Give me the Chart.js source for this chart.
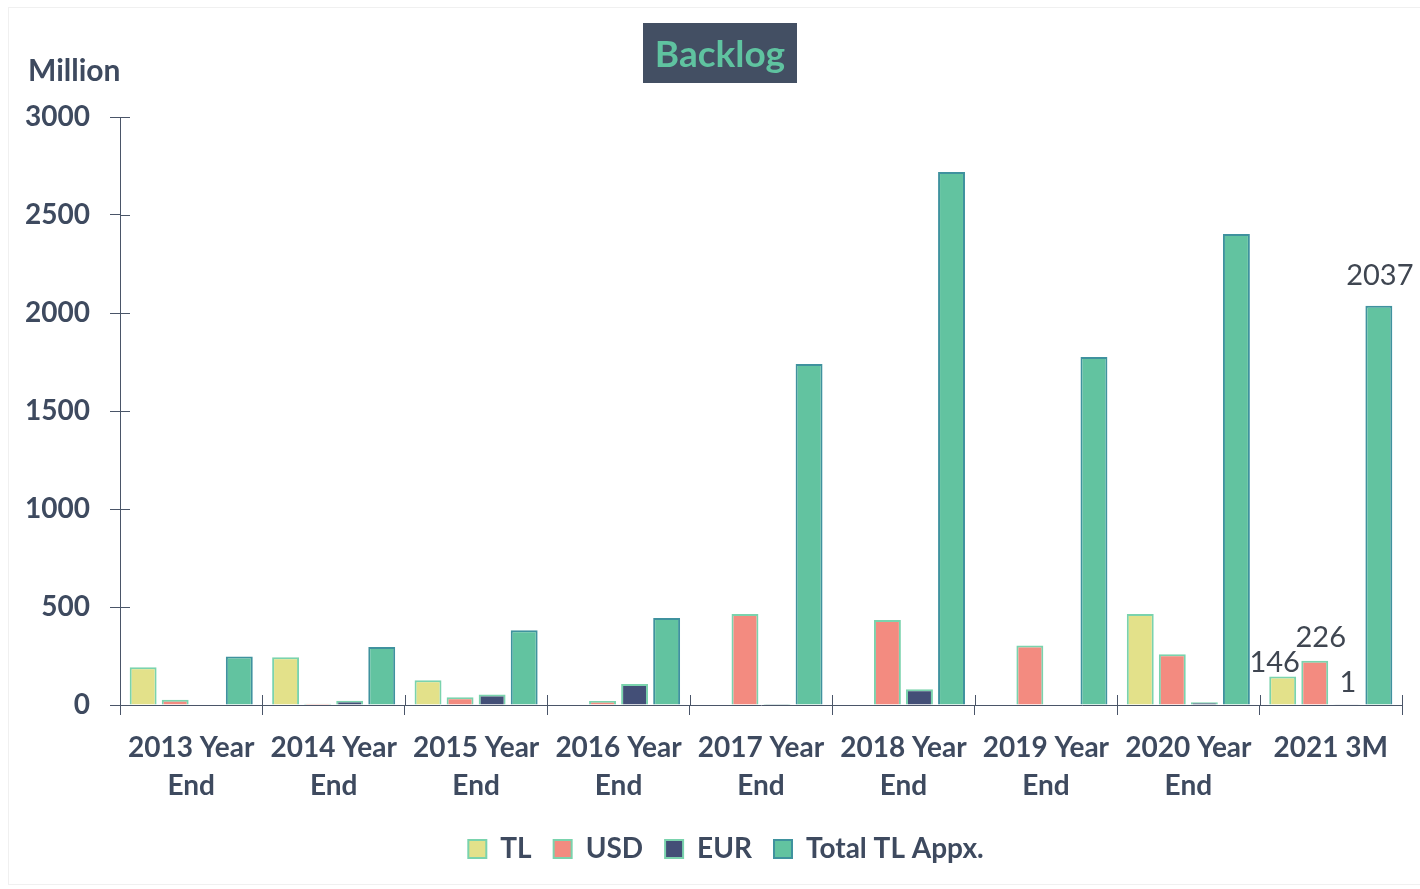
<!DOCTYPE html>
<html>
<head>
<meta charset="utf-8">
<title>Backlog</title>
<script src="https://cdn.jsdelivr.net/npm/chart.js@4.4.0/dist/chart.umd.min.js"></script>
<style>
  body { margin: 0; background: #fff; }
  #frame { position: absolute; left: 8px; top: 7px; width: 1420px; height: 878px; border: 1px solid #f0f0f0; box-sizing: border-box; }
  canvas { position: absolute; left: 0; top: 0; }
</style>
</head>
<body>
<div id="frame"></div>
<canvas id="backlog" width="1420" height="889"></canvas>
<script>
// values (million)
const periods = [
  ["2013 Year", "End"], ["2014 Year", "End"], ["2015 Year", "End"],
  ["2016 Year", "End"], ["2017 Year", "End"], ["2018 Year", "End"],
  ["2019 Year", "End"], ["2020 Year", "End"], "2021 3M"
];
const tlValues    = [192, 243, 126, 0, 0, 0, 0, 464, 146];
const usdValues   = [27, 7, 39, 20, 464, 434, 303, 259, 226];
const eurValues   = [0, 22, 53, 107, 5, 80, 0, 14, 1];
const totalValues = [248, 296, 381, 444, 1740, 2719, 1776, 2403, 2037];
const yTicks = [0, 500, 1000, 1500, 2000, 2500, 3000];

const ink = "#3e4a5f";
const font = "Lato";
// nudges for the value labels on the last group, like Excel spreads them out
const labelNudge = [[-8, -14], [6, -23], [1, -22], [1, -30]];

// title box, unit label, value labels on last group, inner halves of tick marks
const decorations = {
  id: "decorations",
  afterLayout(chart) {
    // legend in the reference sits a bit right of the canvas centre
    chart.legend.left += 25;
    chart.legend.right += 25;
  },
  afterDraw(chart) {
    const ctx = chart.ctx;
    const x = chart.scales.x, y = chart.scales.y;
    ctx.save();

    ctx.fillStyle = "#434f63";
    ctx.fillRect(643, 23, 154, 60);
    ctx.fillStyle = "#5fc3a0";
    ctx.font = "bold 37px " + font;
    ctx.textAlign = "center";
    ctx.textBaseline = "middle";
    ctx.fillText("Backlog", 720, 55);

    ctx.fillStyle = ink;
    ctx.font = "bold 30px " + font;
    ctx.textAlign = "left";
    ctx.fillText("Million", 28, 71);

    ctx.strokeStyle = "#4a5568";
    ctx.lineWidth = 1;
    ctx.beginPath();
    yTicks.forEach(v => {
      const py = Math.round(y.getPixelForValue(v)) + 0.5;
      ctx.moveTo(x.left, py); ctx.lineTo(x.left + 10, py);
    });
    for (let i = 0; i <= periods.length; i++) {
      const px = Math.round(x.left + (x.right - x.left) * i / periods.length) + 0.5;
      ctx.moveTo(px, y.bottom); ctx.lineTo(px, y.bottom - 10);
    }
    ctx.stroke();

    const last = periods.length - 1;
    ctx.fillStyle = "#3f4651";
    ctx.font = "29px " + font;
    ctx.textAlign = "center";
    ctx.textBaseline = "middle";
    chart.data.datasets.forEach((ds, di) => {
      const bar = chart.getDatasetMeta(di).data[last];
      const [dx, dy] = labelNudge[di];
      ctx.fillText(String(ds.data[last]), bar.x + dx, bar.y + dy);
    });
    ctx.restore();
  }
};

new Chart(document.getElementById("backlog"), {
  type: "bar",
  data: {
    labels: periods,
    datasets: [
      { label: "TL", data: tlValues, backgroundColor: "#e3e18a", borderColor: "#7ad3ad" },
      { label: "USD", data: usdValues, backgroundColor: "#f38b80", borderColor: "#7ad3ad" },
      { label: "EUR", data: eurValues, backgroundColor: "#434f77", borderColor: "#7ad3ad" },
      { label: "Total TL Appx.", data: totalValues, backgroundColor: "#62c3a0", borderColor: "#3f929e" }
    ]
  },
  options: {
    responsive: false,
    animation: false,
    datasets: { bar: { borderWidth: 2, borderSkipped: "start", categoryPercentage: 0.9, barPercentage: 0.84 } },
    layout: { padding: { top: 117, right: 18, left: 0, bottom: 16 } },
    plugins: {
      title: { display: false },
      tooltip: { enabled: false },
      legend: {
        position: "bottom",
        labels: { color: ink, font: { family: font, size: 28, weight: "bold" }, boxWidth: 18, boxHeight: 18, padding: 22 }
      }
    },
    scales: {
      x: {
        grid: { display: true, drawOnChartArea: false, offset: true, tickLength: 10, color: "#4a5568" },
        border: { color: "#4a5568", width: 1 },
        ticks: { color: ink, font: { family: font, size: 28, weight: "bold", lineHeight: 1.36 }, padding: 14, maxRotation: 0, autoSkip: false },
        afterFit(scale) { scale.height = 108; }
      },
      y: {
        min: 0, max: 3000,
        afterBuildTicks(scale) { scale.ticks = yTicks.map(v => ({ value: v })); },
        grid: { drawOnChartArea: false, tickLength: 10, color: "#4a5568" },
        border: { color: "#4a5568", width: 1 },
        ticks: { color: ink, font: { family: font, size: 28, weight: "bold" }, padding: 20, callback: v => String(v) },
        afterFit(scale) { scale.width = 120; }
      }
    }
  },
  plugins: [decorations]
});
</script>
</body>
</html>
